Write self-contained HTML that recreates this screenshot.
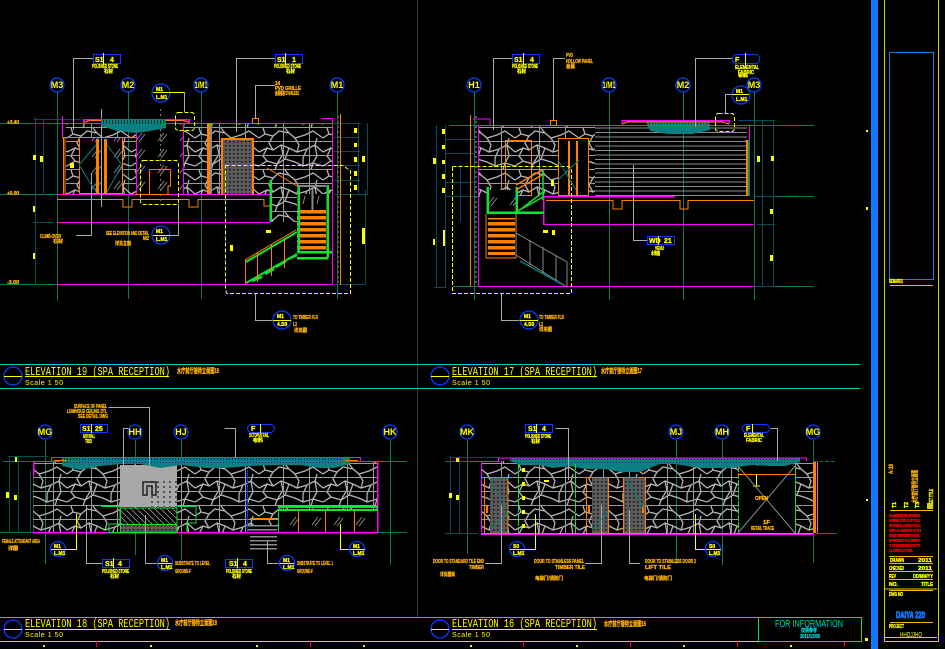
<!DOCTYPE html>
<html><head><meta charset="utf-8"><style>
html,body{margin:0;padding:0;background:#000;width:945px;height:649px;overflow:hidden}
svg{display:block}
text{font-family:"Liberation Sans","Noto Sans CJK SC",sans-serif;font-weight:bold}
.y{fill:#ff0;font-size:5px;stroke:#ff0;stroke-width:.3}.a{fill:#ffb400;font-size:5px;stroke:#ffb400;stroke-width:.3}
.g{fill:#ff0;font-size:9px;font-weight:normal;text-anchor:middle;font-family:"Liberation Mono",monospace}
.t{fill:#ff0;font-size:12px;font-weight:normal;font-family:"Liberation Mono",monospace}.s{fill:#ff0;font-size:7px;font-weight:normal}
.l{fill:none;shape-rendering:crispEdges}
.bub{fill:#000;stroke:#0a3cff;stroke-width:1.300}
</style></head><body>
<svg xmlns="http://www.w3.org/2000/svg" width="945" height="649" viewBox="0 0 945 649">
<defs>
<pattern id="st" width="64" height="42" patternUnits="userSpaceOnUse" patternTransform="translate(3 2)">
<path d="M0 10L6 6L14 8L20 3L30 5L36 10L46 7L54 3L64 10M0 24L8 20L14 22L22 17L30 20L38 24L48 21L56 17L64 24M0 38L8 33L18 36L26 31L36 34L44 38L54 35L64 38M14 8L10 15L14 22M36 10L40 17L38 24M58 10L56 17M22 17L24 26L18 36M48 21L44 30L44 38M8 33L4 28L8 20M30 5L26 0M6 6L4 0M26 31L30 20M54 35L58 28L56 17M18 36L16 42M54 35L52 42" fill="none" stroke="#b4b4b4" stroke-width="1.300"/>
<path d="M24.500 0V42M0 13.500H64M0 27.500H64M0 41.500H64M50.500 0V42" stroke="#9a9a9a" stroke-width="1" fill="none"/>
</pattern>
<pattern id="str" width="8" height="4.500" patternUnits="userSpaceOnUse"><rect y="1.500" width="8" height="1" fill="#8c8c8c"/></pattern>
<pattern id="tr" width="8" height="6" patternUnits="userSpaceOnUse"><rect y="0" width="8" height="3.500" fill="#ff8000"/></pattern>
<pattern id="dot" width="4" height="4" patternUnits="userSpaceOnUse"><rect width="4" height="4" fill="#5a5a5a"/><rect x="1" y="1" width="1.500" height="1.500" fill="#111"/></pattern>
<pattern id="dot2" width="6" height="5" patternUnits="userSpaceOnUse"><rect x="1" y="1" width="2" height="2" fill="#555"/></pattern>
<pattern id="gl" width="22" height="16" patternUnits="userSpaceOnUse"><path d="M4 13L10 5M7 14L13 6" stroke="#888" stroke-width="1"/></pattern>
<pattern id="di" width="6" height="6" patternUnits="userSpaceOnUse"><path d="M0 0L6 6" stroke="#999" stroke-width=".8"/></pattern>
<pattern id="tk" width="3" height="6" patternUnits="userSpaceOnUse"><rect x="1" y="0" width="1" height="4" fill="#033"/></pattern>
</defs>

<!-- global frames -->
<g class="l">
<path d="M417.500 0V617" stroke="#2a3a44"/>
<path d="M0 364.500H860M0 388.500H860M0 617.500H758" stroke="#00d0d0"/>
<path d="M0 641.500H861" stroke="#d8d800"/>
<path d="M96.500 641V647M310.500 641V647M523.500 641V647M630.500 641V647M737.500 641V647M844.500 641V647" stroke="#f00"/>
<path d="M43 646h2M150 646h2M256 646h2M363 646h2M470 646h2M576 646h2M683 646h2M790 646h2" stroke="#ff0" stroke-width="2"/>
<rect x="758.500" y="617.500" width="103" height="24" stroke="#10e030"/>
<rect x="871" y="0" width="7" height="649" fill="#0a7cff"/>
<path d="M884.500 0V641.500M938.500 0V641.500M884.500 641.500H938.500M885 589H937M885 637.500H937" stroke="#d8d800"/>
<rect x="889.500" y="52.500" width="44" height="227" stroke="#1e78e0"/>
<path d="M890 285.500H933M890 510.500H933M889 556.500H933M889 563.500H933M889 571.500H933M889 579.500H933M889 590.500H933M890 622.500H933" stroke="#ffb400"/>
</g>
<g fill="#ff0"><rect x="866" y="130" width="2" height="2"/><rect x="866" y="207" width="2" height="3"/><rect x="866" y="499" width="2" height="2"/><rect x="865" y="638" width="3" height="3"/></g>

<!-- ELEVATION 19 -->
<g class="l">
<path d="M57.500 92V301M128.500 92V299M201.500 92V299M337.500 92V299M0 123.500H66M0 194.500H60M0 284.500H57" stroke="#0b7a5a"/>
<path d="M35.500 117V285M43.500 119V195M34 119.500H80M33 222.500H54M358.500 123V195M367.500 123V195M365.500 190V285M335 284.500H366M334 123.500H361M334 137.500H360M334 151.500H360M334 165.500H360M334 180.500H360M334 194.500H368" stroke="#0e4a55"/>
</g>
<rect x="66" y="123" width="267" height="71" fill="url(#st)"/>
<rect x="79" y="137" width="44" height="57" fill="#000"/><rect x="79" y="137" width="44" height="57" fill="url(#gl)"/>
<rect x="137" y="124" width="46" height="70" fill="#000"/><rect x="137" y="124" width="46" height="70" fill="url(#gl)"/>
<rect x="221" y="138" width="33" height="57" fill="url(#dot)"/>
<g class="l">
<path d="M62.500 116V137M62 123.500H333M136.500 123V194M183.500 123V194M332.500 118V285M57 194.500H270M57 222.500H270M57 284.500H333M321.500 118.500H333" stroke="#f0f"/>
<path d="M83.500 123V119.500H189V123" stroke="#f0f" stroke-width="1.500"/>
<path d="M84 122.500L90 120.500H183L189 122.500" stroke="#ff8000"/>
<rect x="79.500" y="137.500" width="43" height="56" stroke="#ff8000"/>
<path d="M62 137.500H137M65 137V195M63.500 137V195M57 199.500H123V207H132V199.500H189V207H198V199.500H264V206H270" stroke="#ff8000"/>
<rect x="96" y="139" width="3" height="54" fill="#ff8000"/><rect x="104" y="139" width="3" height="54" fill="#ff8000"/>
<rect x="207" y="123" width="3" height="71" fill="#ff8000"/><rect x="210" y="123" width="2" height="71" fill="#888"/>
<rect x="221" y="138" width="33" height="2" fill="#ff8000"/><rect x="221" y="138" width="2" height="57" fill="#ff8000"/><rect x="252" y="138" width="2" height="57" fill="#ff8000"/>
<rect x="252.500" y="118.500" width="6" height="5" stroke="#ff8000"/>
<path d="M340.500 114V285M149.500 194V169.500H170.500V186H168V194" stroke="#ff8000"/>
<path d="M136 194.500H170" stroke="#ff8000"/>
<path d="M73.500 130V58.500H93M236.500 132V58.500H275M255.500 118V85.500H275M170 92.500H184.500V112M101.500 109V207M91.500 173V235.500H76M178.500 204V235.500H170M255.500 293V320.500H273" stroke="#aaa"/>
<rect x="333" y="114" width="7" height="171" fill="url(#dot2)"/>
<path d="M160.500 109V204" stroke="#777" stroke-dasharray="2 3"/>
<path d="M225.500 165.500H343L350.500 171V293.500H227L225.500 290Z" stroke="#ff0" stroke-dasharray="4 2"/>
<rect x="140.500" y="160.500" width="38" height="44" rx="3" stroke="#ff0" stroke-dasharray="4 2"/>
<rect x="175.500" y="112.500" width="19" height="18" rx="3" stroke="#ff0" stroke-dasharray="4 2"/>
</g>
<path d="M101 119H166V128L150 131L136 133L118 131L101 126Z" fill="#0a8080"/><rect x="101" y="119" width="65" height="6" fill="url(#tk)"/>
<path d="M79 165L96 145M79 165L96 192M122 165L107 145M122 165L107 192" stroke="#0a8080" fill="none"/>
<rect x="270" y="190" width="27" height="32" fill="url(#st)"/>
<rect x="297" y="210" width="29" height="42" fill="url(#tr)"/>
<g fill="none">
<path d="M298.500 185V253M327.500 185V258M297 252H332M297 258H328M270.500 180V222" stroke="#10e030" stroke-width="2.500" shape-rendering="crispEdges"/>
<path d="M246 262L297 232M246 283L297 254" stroke="#10e030" stroke-width="2"/>
<path d="M252 281L262 277M265 274L274 269M276 267L286 261M288 259L297 255" stroke="#10e030" stroke-width="2.500"/>
<path d="M245.500 259V284M257.500 252V282M271.500 244V276M284.500 238V268" stroke="#ff8000"/>
<path d="M245 260L296 230M267 168L297 186" stroke="#ff8000"/>
<path d="M297 186H326M312.500 186V210" stroke="#888" stroke-width="2"/>
</g>
<g class="l"><path d="M305 196L303 204M319 196L317 204" stroke="#888"/></g>

<!-- ELEVATION 17 -->
<g class="l">
<path d="M474.500 92V300M609.500 92V300M683.500 92V300M754.500 92V300M449 125.500H478M750 125.500H814M449 196.500H480M754 196.500H814M453 286.500H478M754 286.500H814" stroke="#0b7a5a"/>
<path d="M436.500 125V287M445.500 125V287M460.500 165V222M445 139.500H475M445 153.500H475M445 182.500H475M445 196.500H475M434 287.500H446M738 120.500H775M762.500 120V287M773.500 121V287M755 196.500H775M757 224.500H775M754 286.500H775" stroke="#0e4a55"/>
</g>
<rect x="478" y="125" width="117" height="71" fill="url(#st)"/>
<rect x="595" y="125" width="152" height="71" fill="url(#str)"/>
<rect x="558" y="138" width="30" height="58" fill="#000"/>
<rect x="505" y="140" width="26" height="55" fill="#000"/>
<rect x="505" y="140" width="26" height="55" fill="url(#st)"/>
<path d="M645 120H710V130L692 134H668L650 131Z" fill="#0a8080"/><rect x="645" y="120" width="65" height="6" fill="url(#tk)"/>
<g class="l">
<path d="M478.500 125V287M478 125.500H595M595 125.500H750M749.500 125V140M745 140.500H750M478 286.500H754M543 224.500H754" stroke="#f0f"/>
<path d="M622 124V120.500H729V124M543.500 197V224M543 196.500H675" stroke="#f0f" stroke-width="1.500"/>
<path d="M622 124L628 122H722L729 124" stroke="#ff8000"/>
<path d="M470.500 115V287" stroke="#ff8000" /><rect x="471" y="115" width="7" height="172" fill="url(#dot2)"/>
<path d="M473 119H490V125" stroke="#f0f"/>
<rect x="505.500" y="140.500" width="26" height="55" stroke="#ff8000"/>
<rect x="558.500" y="138.500" width="30" height="57" stroke="#ff8000"/>
<rect x="568" y="141" width="2" height="54" fill="#ff8000"/><rect x="576" y="141" width="2" height="54" fill="#ff8000"/>
<rect x="550.500" y="120.500" width="6" height="5" stroke="#ff8000"/>
<rect x="746" y="140" width="2" height="56" fill="#ff8000"/><rect x="748" y="140" width="2" height="56" fill="#0a8080"/>
<path d="M546 200.500H613V209H622V200.500H680V209H688V200.500H754" stroke="#ff8000"/>
<path d="M493.500 58.500H493M493.500 130V58.500H512M553.500 120V58.500H565M695.500 127V58.500H732M725.500 113V94.500H743M633.500 196V240.500H647M501.500 293V320.500H520M633.500 165V196" stroke="#aaa"/>
<path d="M452.500 166.500H569L571.500 170V293.500H452.500Z" stroke="#ff0" stroke-dasharray="4 2"/>
<rect x="715.500" y="113.500" width="19" height="18" rx="3" stroke="#ff0" stroke-dasharray="4 2"/>
<path d="M558 180L579 160M576 190L558 160" stroke="#0a8080"/>
</g>
<rect x="488" y="218" width="27" height="37" fill="url(#tr)"/>
<rect x="487" y="190" width="29" height="22" fill="#000"/><rect x="487" y="190" width="29" height="22" fill="url(#gl)"/>
<g fill="none">
<path d="M487.500 187V214M516.500 187V214M487 212.500H544" stroke="#10e030" stroke-width="2.500" shape-rendering="crispEdges"/>
<path d="M486 214V258M516 214V258M486 258H516" stroke="#ff8000"/>
<path d="M516 233L567 262V287L516 255ZM530 240V265M543 247V274M556 255V282" stroke="#888"/>
<path d="M520 261L565 286" stroke="#0a8080" stroke-width="1.500"/>
<path d="M516 212L543 197M520 210L543 192M543 170V200" stroke="#10e030" stroke-width="1.500"/>
<path d="M516 185L542 170M516 190L542 175" stroke="#ff8000" stroke-width="1.500"/>
</g>

<!-- ELEVATION 18 -->
<g class="l">
<path d="M45.500 440V564M135.500 440V532M181.500 440V560M390.500 440V565M3 461.500H33M378 461.500H407M0 532.500H33M378 532.500H407M135.500 532V555" stroke="#0b7a5a"/>
<path d="M9.500 456V533M18.500 456V533M8 456.500H48M30.500 470V532M33.500 470V532" stroke="#0e4a55"/>
</g>
<rect x="33" y="461" width="345" height="71" fill="url(#st)"/>
<rect x="120" y="465" width="57" height="42" fill="#a8a8a8"/>
<rect x="148" y="478" width="29" height="30" fill="url(#dot2)"/>
<path d="M143 482H156V495H152V486H147V495H143Z" fill="none" stroke="#222" stroke-width="1.500"/>
<rect x="120" y="508" width="57" height="16" fill="#000"/><rect x="120" y="508" width="57" height="16" fill="url(#di)"/>
<rect x="120" y="524" width="57" height="8" fill="url(#dot)"/>
<rect x="278" y="511" width="100" height="21" fill="#000"/><rect x="278" y="511" width="100" height="21" fill="url(#gl)"/>
<rect x="248" y="525" width="28" height="29" fill="#000"/>
<path d="M62 458H350V464L334 468H320L300 465H275L250 466L225 468H205L182 465L160 468L140 464H120L100 466L80 470L62 466Z" fill="#0a8080"/><rect x="62" y="458" width="280" height="5" fill="url(#tk)"/>
<g class="l">
<path d="M51.500 461V457.500H360.500V461M33 461.500H60M350 461.500H378" stroke="#f0f"/>
<path d="M33.500 461V475M33 475.500H34M377.500 461V532M33 532.500H378" stroke="#f0f" stroke-width="1.500"/>
<path d="M54 460.500H66M345 460.500H358" stroke="#ff8000"/>
<path d="M101.500 506.500H120V524H109V532M120.500 508V532.500H177V508ZM177.500 506.500H196V523H187V532M120 524.500H177M109 532.500H120" stroke="#10e030"/>
<path d="M278 507H378M278 510H378" stroke="#10e030" stroke-width="2"/>
<path d="M278.500 509V532M247.500 510V532" stroke="#10e030"/>
<path d="M298.500 511V532M325.500 511V532M354.500 511V532M250 518.500H278" stroke="#ff8000"/>
<path d="M247.500 470V532" stroke="#0a3cff"/>
<path d="M248 525.500H277M248 529.500H277M250 536.500H277M250 540.500H277M250 544.500H277M250 548.500H277" stroke="#8a8a8a" stroke-width="1.500"/>
<path d="M108.500 407.500H149.500V478M133 428.500H123.500V472M86.500 505V563.500H102M145.500 515V563.500H158M224.500 428.500H235.500V458M267.500 541V563.500H280" stroke="#aaa"/>
<path d="M76.500 514V549.500H60M340.500 524V549.500H353" stroke="#ff0"/>
</g>

<!-- ELEVATION 16 -->
<g class="l">
<path d="M467.500 440V554M676.500 440V564M722.500 440V565M813.500 440V563M816 533.500H837M445 461.500H481" stroke="#0b7a5a"/>
<path d="M450.500 456V534M459.500 456V534M449 457.500H500M445 533.500H478" stroke="#0e4a55"/>
<path d="M813 461.500H836" stroke="#0b7a5a" stroke-dasharray="4 2"/>
</g>
<rect x="482" y="461" width="331" height="73" fill="url(#st)"/>
<rect x="738" y="466" width="57" height="67" fill="#000"/>
<rect x="490" y="478" width="18" height="55" fill="url(#dot)"/>
<rect x="592" y="478" width="16" height="55" fill="url(#dot)"/>
<rect x="623" y="478" width="22" height="55" fill="url(#dot)"/>
<path d="M510 458H800V462L785 466H770L752 465L730 468L700 468L675 464H660L640 472H620L605 469H585L570 466L553 468L540 465H520L510 461Z" fill="#0a8080"/><rect x="510" y="458" width="286" height="5" fill="url(#tk)"/>
<g class="l">
<path d="M498.500 461V458H806.500V461M481.500 461V534M481 461.500H500M481 534.500H813" stroke="#f0f"/>
<rect x="484.500" y="477.500" width="23.500" height="56" stroke="#ff8000"/>
<path d="M586.500 533V477.500H608.500V533M623.500 533V477.500H645.500V533M738 474.500H795" stroke="#ff8000"/>
<rect x="486" y="506" width="2" height="7" fill="#ff8000"/><rect x="588" y="506" width="2" height="7" fill="#ff8000"/><rect x="642" y="506" width="2" height="7" fill="#ff8000"/>
<rect x="813" y="462" width="3" height="71" fill="#ff8000"/><path d="M817.500 462V533" stroke="#ff8000"/>
<path d="M518.500 464V533M575.500 464V533M738.500 466V533M795.500 466V533" stroke="#10e030" stroke-dasharray="6 1"/>
<path d="M555.500 428.500H568.500V480M501.500 505V563.500H485M601.500 505V563.500H585M629.500 510V563.500H640M770.500 428.500H777.500V461" stroke="#aaa"/>
<path d="M535.500 514V549.500H518M695.500 514V549.500H715M756.500 474V486M753 486H760" stroke="#ff0"/>
</g>
<path d="M738 466L795 533M795 466L738 533" stroke="#888" fill="none"/>
<path d="M490 530L508 512M592 530L608 512M627 480L645 510M490 480L508 510" stroke="#0a8080" fill="none"/>

<!-- bubbles -->
<g>
<circle class="bub" cx="57" cy="85" r="7"/><circle class="bub" cx="128" cy="85" r="7"/><circle class="bub" cx="201" cy="85" r="7"/><circle class="bub" cx="337" cy="85" r="7"/>
<circle class="bub" cx="474" cy="85" r="7"/><circle class="bub" cx="609" cy="85" r="7"/><circle class="bub" cx="683" cy="85" r="7"/><circle class="bub" cx="754" cy="85" r="7"/>
<circle class="bub" cx="45" cy="432" r="7"/><circle class="bub" cx="135" cy="432" r="7"/><circle class="bub" cx="181" cy="432" r="7"/><circle class="bub" cx="390" cy="432" r="7"/>
<circle class="bub" cx="467" cy="432" r="7"/><circle class="bub" cx="676" cy="432" r="7"/><circle class="bub" cx="722" cy="432" r="7"/><circle class="bub" cx="813" cy="432" r="7"/>
<circle class="bub" cx="161" cy="93" r="9"/><circle class="bub" cx="161" cy="235" r="9"/><circle class="bub" cx="282" cy="320" r="9"/><circle class="bub" cx="529" cy="320" r="9"/><circle class="bub" cx="741" cy="95" r="9"/>
<circle class="bub" cx="58" cy="549" r="7.500"/><circle class="bub" cx="165" cy="563" r="7.500"/><circle class="bub" cx="287" cy="563" r="7.500"/><circle class="bub" cx="357" cy="549" r="7.500"/><circle class="bub" cx="517" cy="549" r="7.500"/><circle class="bub" cx="713" cy="549" r="7.500"/>
<circle class="bub" cx="13" cy="376" r="9"/><circle class="bub" cx="440" cy="376" r="9"/><circle class="bub" cx="13" cy="629" r="9"/><circle class="bub" cx="440" cy="629" r="9"/>
</g>
<g class="l">
<path d="M153 92.500H184M153 235.500H170M273 320.500H291M520 320.500H538M732 94.500H749M51 549.500H66M158 563.500H172M280 563.500H294M350 549.500H365M510 549.500H525M706 549.500H721M4 376.500H22M431 376.500H449M4 629.500H22M431 629.500H449" stroke="#ff0"/>
<path d="M25 376.500H169M452 376.500H597M25 629.500H170M452 629.500H597" stroke="#ff0"/>
<!-- tags -->
<g stroke="#0a3cff" fill="#000">
<rect x="93.500" y="54.500" width="27" height="9"/><rect x="275.500" y="54.500" width="27" height="9"/><rect x="512.500" y="54.500" width="27" height="9"/><rect x="647.500" y="236.500" width="27" height="8"/>
<rect x="80.500" y="424.500" width="27" height="8"/><rect x="102.500" y="559.500" width="27" height="8"/><rect x="225.500" y="559.500" width="27" height="8"/><rect x="525.500" y="424.500" width="27" height="8"/>
</g>
<g stroke="#0a3cff" fill="#000">
<rect x="732.500" y="54.500" width="27" height="9" rx="4"/><rect x="247.500" y="424.500" width="27" height="8" rx="4"/><rect x="742.500" y="424.500" width="27" height="8" rx="4"/>
</g>
<path d="M103.500 53V65M285.500 53V65M523.500 53V65M745.500 53V65M658.500 236V245M91.500 424V433M113.500 558V568M237.500 558V568M260.500 424V433M536.500 424V433M752.500 424V433" stroke="#ff0"/>
</g>

<!-- grid labels -->
<g class="g">
<text x="57" y="88">M3</text><text x="128" y="88">M2</text><text x="201" y="88" textLength="13" lengthAdjust="spacingAndGlyphs">1/M1</text><text x="337" y="88">M1</text>
<text x="474" y="88">H1</text><text x="609" y="88" textLength="13" lengthAdjust="spacingAndGlyphs">1/M1</text><text x="683" y="88">M2</text><text x="754" y="88">M3</text>
<text x="45" y="435">MG</text><text x="135" y="435">HH</text><text x="181" y="435">HJ</text><text x="390" y="435">HK</text>
<text x="467" y="435">MK</text><text x="676" y="435">MJ</text><text x="722" y="435">MH</text><text x="813" y="435">MG</text>
</g>

<!-- tag text -->
<g class="y" style="font-size:7px">
<text x="95" y="62">S1</text><text x="110" y="62">4</text><text x="277" y="62">S1</text><text x="292" y="62">1</text><text x="514" y="62">S1</text><text x="530" y="62">4</text>
<text x="649" y="243">WD</text><text x="664" y="243">21</text><text x="82" y="431">S1</text><text x="95" y="431">25</text><text x="105" y="566">S1</text><text x="118" y="566">4</text><text x="229" y="566">S1</text><text x="243" y="566">4</text><text x="528" y="431">S1</text><text x="542" y="431">4</text>
<text x="735" y="62">F</text><text x="251" y="431">F</text><text x="746" y="431">F</text>
<text x="156" y="91" style="font-size:5px">M1</text><text x="156" y="99" style="font-size:5px">L.M1</text><text x="156" y="233" style="font-size:5px">M1</text><text x="156" y="241" style="font-size:5px">L.M1</text>
<text x="277" y="318" style="font-size:5px">M1</text><text x="277" y="326" style="font-size:5px">4.S0</text><text x="524" y="318" style="font-size:5px">M1</text><text x="524" y="326" style="font-size:5px">4.S0</text>
<text x="736" y="93" style="font-size:5px">M1</text><text x="736" y="101" style="font-size:5px">L.M1</text>
<text x="54" y="548" style="font-size:5px">M1</text><text x="54" y="555" style="font-size:5px">L.M1</text><text x="161" y="562" style="font-size:5px">M1</text><text x="161" y="569" style="font-size:5px">L.M1</text><text x="283" y="562" style="font-size:5px">M1</text><text x="283" y="569" style="font-size:5px">L.M1</text><text x="353" y="548" style="font-size:5px">M1</text><text x="353" y="555" style="font-size:5px">L.M1</text><text x="513" y="548" style="font-size:5px">S0</text><text x="513" y="555" style="font-size:5px">L.M1</text><text x="709" y="548" style="font-size:5px">S0</text><text x="709" y="555" style="font-size:5px">L.M1</text>
</g>

<!-- small labels -->
<g class="y">
<text x="92" y="68" textLength="26" lengthAdjust="spacingAndGlyphs">POLISHED STONE</text><text x="104" y="73" textLength="9" lengthAdjust="spacingAndGlyphs">石材</text>
<text x="274" y="68" textLength="27" lengthAdjust="spacingAndGlyphs">POLISHED STONE</text><text x="286" y="73" textLength="9" lengthAdjust="spacingAndGlyphs">石材</text>
<text x="512" y="68" textLength="26" lengthAdjust="spacingAndGlyphs">POLISHED STONE</text><text x="517" y="73" textLength="9" lengthAdjust="spacingAndGlyphs">石材</text>
<text x="735" y="69" textLength="24" lengthAdjust="spacingAndGlyphs">ELEMENTAL</text><text x="738" y="74" textLength="16" lengthAdjust="spacingAndGlyphs">FABRIC</text><text x="738" y="77" textLength="10" lengthAdjust="spacingAndGlyphs" style="font-size:4px">布料</text>
<text x="655" y="250" textLength="9" lengthAdjust="spacingAndGlyphs">VENU</text><text x="651" y="255" textLength="9" lengthAdjust="spacingAndGlyphs">木饰面</text>
<text x="83" y="438" textLength="12" lengthAdjust="spacingAndGlyphs">BATH WALL</text><text x="85" y="443" textLength="7" lengthAdjust="spacingAndGlyphs">TBD</text>
<text x="102" y="573" textLength="27" lengthAdjust="spacingAndGlyphs">POLISHED STONE</text><text x="110" y="578" textLength="9" lengthAdjust="spacingAndGlyphs">石材</text>
<text x="226" y="573" textLength="26" lengthAdjust="spacingAndGlyphs">POLISHED STONE</text><text x="232" y="578" textLength="9" lengthAdjust="spacingAndGlyphs">石材</text>
<text x="525" y="438" textLength="26" lengthAdjust="spacingAndGlyphs">POLISHED STONE</text><text x="531" y="443" textLength="9" lengthAdjust="spacingAndGlyphs">石材</text>
<text x="249" y="437" textLength="20" lengthAdjust="spacingAndGlyphs">OCTOPUS RAIL</text><text x="253" y="442" textLength="10" lengthAdjust="spacingAndGlyphs">布料</text>
<text x="744" y="437" textLength="20" lengthAdjust="spacingAndGlyphs">ELEMENTAL</text><text x="746" y="442" textLength="16" lengthAdjust="spacingAndGlyphs">FABRIC</text>
</g>
<g class="a">
<text x="275" y="85" textLength="5" lengthAdjust="spacingAndGlyphs">14</text><text x="275" y="90" textLength="26" lengthAdjust="spacingAndGlyphs">PVD GRILLE</text><text x="275" y="95" textLength="24" lengthAdjust="spacingAndGlyphs">金属格栅 STAINLESS</text>
<text x="566" y="57" textLength="7" lengthAdjust="spacingAndGlyphs">PVD</text><text x="566" y="63" textLength="27" lengthAdjust="spacingAndGlyphs">HOLLOW PANEL</text><text x="566" y="68" textLength="9" lengthAdjust="spacingAndGlyphs">金属</text>
<text x="40" y="238" textLength="21" lengthAdjust="spacingAndGlyphs">CLIMB-OVER</text><text x="53" y="243" textLength="10" lengthAdjust="spacingAndGlyphs">石材</text>
<text x="106" y="235" textLength="43" lengthAdjust="spacingAndGlyphs">SEE ELEVATION AND DETAIL</text><text x="143" y="240" textLength="6" lengthAdjust="spacingAndGlyphs">M2</text><text x="115" y="245" textLength="16" lengthAdjust="spacingAndGlyphs">详见立面</text>
<text x="293" y="319" textLength="25" lengthAdjust="spacingAndGlyphs">TO TIMBER FLR</text><text x="293" y="326" textLength="4" lengthAdjust="spacingAndGlyphs">L2</text><text x="294" y="332" textLength="13" lengthAdjust="spacingAndGlyphs">详见图</text>
<text x="539" y="319" textLength="25" lengthAdjust="spacingAndGlyphs">TO TIMBER FLR</text><text x="539" y="326" textLength="4" lengthAdjust="spacingAndGlyphs">L2</text><text x="539" y="331" textLength="13" lengthAdjust="spacingAndGlyphs">详见图</text>
<text x="7" y="124" textLength="12" lengthAdjust="spacingAndGlyphs">+3.40</text><text x="7" y="195" textLength="12" lengthAdjust="spacingAndGlyphs">+0.00</text><text x="7" y="284" textLength="12" lengthAdjust="spacingAndGlyphs">-3.00</text>
<text x="74" y="408" textLength="33" lengthAdjust="spacingAndGlyphs">SURFACE OF PANEL</text><text x="67" y="413" textLength="40" lengthAdjust="spacingAndGlyphs">LUMINOUS CEILING DTL</text><text x="78" y="418" textLength="30" lengthAdjust="spacingAndGlyphs">SEE DETAIL DWG</text>
<text x="2" y="543" textLength="38" lengthAdjust="spacingAndGlyphs">FEMALE ATTENDANT AREA</text><text x="8" y="550" textLength="10" lengthAdjust="spacingAndGlyphs">详图</text>
<text x="175" y="565" textLength="35" lengthAdjust="spacingAndGlyphs">SUBSTRATE TO LEVEL</text><text x="175" y="573" textLength="16" lengthAdjust="spacingAndGlyphs">GROUND-F</text>
<text x="297" y="565" textLength="36" lengthAdjust="spacingAndGlyphs">SUBSTRATE TO LEVEL 1</text><text x="297" y="573" textLength="16" lengthAdjust="spacingAndGlyphs">GROUND-F</text>
<text x="433" y="563" textLength="51" lengthAdjust="spacingAndGlyphs">DOOR TO STANDARD TILE END</text><text x="469" y="569" textLength="15" lengthAdjust="spacingAndGlyphs">TIMBER</text><text x="440" y="576" textLength="15" lengthAdjust="spacingAndGlyphs">详见图纸</text>
<text x="534" y="563" textLength="50" lengthAdjust="spacingAndGlyphs">DOOR TO STAINLESS PANEL</text><text x="555" y="569" textLength="30" lengthAdjust="spacingAndGlyphs">TIMBER TILE</text><text x="535" y="580" textLength="28" lengthAdjust="spacingAndGlyphs">电梯门/消防门</text>
<text x="645" y="563" textLength="51" lengthAdjust="spacingAndGlyphs">DOOR TO STAINLESS DOOR 2</text><text x="645" y="569" textLength="26" lengthAdjust="spacingAndGlyphs">LIFT TILE</text><text x="644" y="580" textLength="28" lengthAdjust="spacingAndGlyphs">电梯门/消防门</text>
<text x="755" y="500" textLength="13" lengthAdjust="spacingAndGlyphs">OPEN</text><text x="763" y="524" textLength="7" lengthAdjust="spacingAndGlyphs">1F</text><text x="751" y="530" textLength="23" lengthAdjust="spacingAndGlyphs">RETAIL TRACE</text>
<text x="177" y="373" textLength="42" lengthAdjust="spacingAndGlyphs" style="font-size:7px">水疗前厅接待立面图19</text><text x="601" y="373" textLength="41" lengthAdjust="spacingAndGlyphs" style="font-size:7px">水疗前厅接待立面图17</text>
<text x="175" y="625" textLength="42" lengthAdjust="spacingAndGlyphs" style="font-size:7px">水疗前厅接待立面图18</text><text x="604" y="626" textLength="42" lengthAdjust="spacingAndGlyphs" style="font-size:7px">水疗前厅接待立面图16</text>
</g>
<g fill="#ff0"><rect x="33" y="155" width="3" height="5"/><rect x="40" y="156" width="3" height="6"/><rect x="70" y="163" width="4" height="5"/><rect x="33" y="206" width="2" height="6"/><rect x="33" y="253" width="2" height="6"/><rect x="354" y="128" width="3" height="5"/><rect x="354" y="143" width="3" height="4"/><rect x="354" y="157" width="3" height="5"/><rect x="354" y="171" width="3" height="5"/><rect x="354" y="185" width="3" height="5"/><rect x="362" y="156" width="3" height="6"/><rect x="362" y="228" width="3" height="16"/><rect x="230" y="245" width="3" height="6"/><rect x="266" y="230" width="5" height="3"/>
<rect x="442" y="129" width="3" height="5"/><rect x="442" y="145" width="3" height="4"/><rect x="442" y="160" width="3" height="4"/><rect x="442" y="174" width="3" height="5"/><rect x="442" y="188" width="3" height="5"/><rect x="433" y="158" width="3" height="6"/><rect x="443" y="230" width="2" height="16"/><rect x="433" y="239" width="2" height="6"/><rect x="551" y="180" width="3" height="6"/><rect x="757" y="156" width="3" height="6"/><rect x="771" y="156" width="3" height="5"/><rect x="770" y="209" width="3" height="5"/><rect x="770" y="255" width="3" height="6"/><rect x="552" y="230" width="3" height="5"/><rect x="543" y="230" width="5" height="3"/>
<rect x="6" y="492" width="3" height="6"/><rect x="14" y="495" width="3" height="5"/><rect x="15" y="457" width="2" height="5"/><rect x="449" y="493" width="3" height="5"/><rect x="456" y="495" width="3" height="5"/><rect x="456" y="458" width="3" height="4"/><rect x="522" y="468" width="3" height="4"/><rect x="522" y="482" width="3" height="4"/><rect x="522" y="496" width="3" height="4"/><rect x="522" y="510" width="3" height="4"/><rect x="522" y="524" width="3" height="4"/><rect x="544" y="480" width="5" height="2"/>
</g>

<!-- titles -->
<text class="t" x="25" y="375" textLength="145" lengthAdjust="spacingAndGlyphs">ELEVATION 19 (SPA RECEPTION)</text><text class="s" x="25" y="385" textLength="38" lengthAdjust="spacing">Scale 1   50</text>
<text class="t" x="452" y="375" textLength="145" lengthAdjust="spacingAndGlyphs">ELEVATION 17 (SPA RECEPTION)</text><text class="s" x="452" y="385" textLength="38" lengthAdjust="spacing">Scale 1   50</text>
<text class="t" x="25" y="627" textLength="145" lengthAdjust="spacingAndGlyphs">ELEVATION 18 (SPA RECEPTION)</text><text class="s" x="25" y="637" textLength="38" lengthAdjust="spacing">Scale 1   50</text>
<text class="t" x="452" y="627" textLength="145" lengthAdjust="spacingAndGlyphs">ELEVATION 16 (SPA RECEPTION)</text><text class="s" x="452" y="637" textLength="38" lengthAdjust="spacing">Scale 1   50</text>
<text x="775" y="627" textLength="68" lengthAdjust="spacingAndGlyphs" style="fill:#00d0d0;font-size:10px;font-weight:normal">FOR INFORMATION</text>
<text x="801" y="632" textLength="16" lengthAdjust="spacingAndGlyphs" style="fill:#00d0d0;font-size:5px;stroke:#00d0d0;stroke-width:.3">仅供参考</text>
<text x="800" y="638" textLength="20" lengthAdjust="spacingAndGlyphs" style="fill:#00d0d0;font-size:5px;stroke:#00d0d0;stroke-width:.3">2011/12/05</text>

<!-- title block -->
<g style="font-size:5px">
<text class="y" x="889" y="283" textLength="14" lengthAdjust="spacingAndGlyphs">REMARKS</text>
<g transform="translate(893 474) rotate(-90)"><text class="a" x="0" y="0" textLength="10" lengthAdjust="spacingAndGlyphs" style="font-size:6px">A-18</text></g>
<g transform="translate(917 503) rotate(-90)"><text class="a" x="0" y="0" textLength="33" lengthAdjust="spacingAndGlyphs" style="font-size:7px">水疗前厅接待立面图</text></g>
<g transform="translate(896 508) rotate(-90)"><text class="y" x="0" y="0" textLength="6" lengthAdjust="spacingAndGlyphs">T1</text></g>
<g transform="translate(908 508) rotate(-90)"><text class="y" x="0" y="0" textLength="6" lengthAdjust="spacingAndGlyphs">T2</text></g>
<g transform="translate(919 508) rotate(-90)"><text class="y" x="0" y="0" textLength="6" lengthAdjust="spacingAndGlyphs">T3</text></g>
<g transform="translate(933 508) rotate(-90)"><text class="y" x="0" y="0" textLength="19" lengthAdjust="spacingAndGlyphs">SHEET TITLE</text></g>
<rect x="927" y="503" width="6" height="6" fill="#d8d800"/>
</g>
<g style="fill:#f00;stroke:#f00;stroke-width:.35;font-size:4.500px;font-weight:bold">
<text x="889" y="517" textLength="31" lengthAdjust="spacingAndGlyphs">ALL DIMENSIONS ARE IN MM UNLESS</text>
<text x="889" y="522" textLength="31" lengthAdjust="spacingAndGlyphs">OTHERWISE NOTED. DO NOT SCALE</text>
<text x="889" y="527" textLength="32" lengthAdjust="spacingAndGlyphs">THE DRAWINGS. CONTRACTOR SHALL</text>
<text x="889" y="532" textLength="32" lengthAdjust="spacingAndGlyphs">VERIFY ALL DIMENSIONS ON SITE</text>
<text x="889" y="537" textLength="31" lengthAdjust="spacingAndGlyphs">BEFORE COMMENCEMENT OF WORK.</text>
<text x="889" y="542" textLength="31" lengthAdjust="spacingAndGlyphs">ANY DISCREPANCY SHALL BE REPORT</text>
<text x="889" y="547" textLength="31" lengthAdjust="spacingAndGlyphs">TO THE DESIGNER IMMEDIATELY FOR</text>
<text x="889" y="552" textLength="24" lengthAdjust="spacingAndGlyphs">CLARIFICATION.</text>
</g>
<g class="y" style="font-size:5px">
<text class="y" x="890" y="562" textLength="14" lengthAdjust="spacingAndGlyphs">DRAWN</text><text class="y" x="918" y="562" textLength="14" lengthAdjust="spacingAndGlyphs">2011</text>
<text class="y" x="889" y="570" textLength="15" lengthAdjust="spacingAndGlyphs">CHECKED</text><text class="y" x="918" y="570" textLength="14" lengthAdjust="spacingAndGlyphs">2011</text>
<text class="y" x="889" y="578" textLength="7" lengthAdjust="spacingAndGlyphs">REV</text><text class="y" x="913" y="578" textLength="20" lengthAdjust="spacingAndGlyphs">DD/MM/YY</text>
<text class="y" x="889" y="586" textLength="9" lengthAdjust="spacingAndGlyphs">NO.</text><text class="y" x="921" y="586" textLength="12" lengthAdjust="spacingAndGlyphs">TITLE</text>
<text class="y" x="889" y="596" textLength="14" lengthAdjust="spacingAndGlyphs">DWG NO</text>
<text class="y" x="889" y="628" textLength="15" lengthAdjust="spacingAndGlyphs">PROJECT</text>
<text class="y" x="900" y="637" textLength="22" lengthAdjust="spacingAndGlyphs" style="font-size:7px;font-weight:normal;stroke-width:0">HHOJJHO</text>
</g>
<text x="896" y="618" textLength="29" lengthAdjust="spacingAndGlyphs" style="fill:#0a7cff;stroke:#0a7cff;stroke-width:.8;font-size:9px;font-weight:bold">DAIYA 220</text>
</svg>
</body></html>
